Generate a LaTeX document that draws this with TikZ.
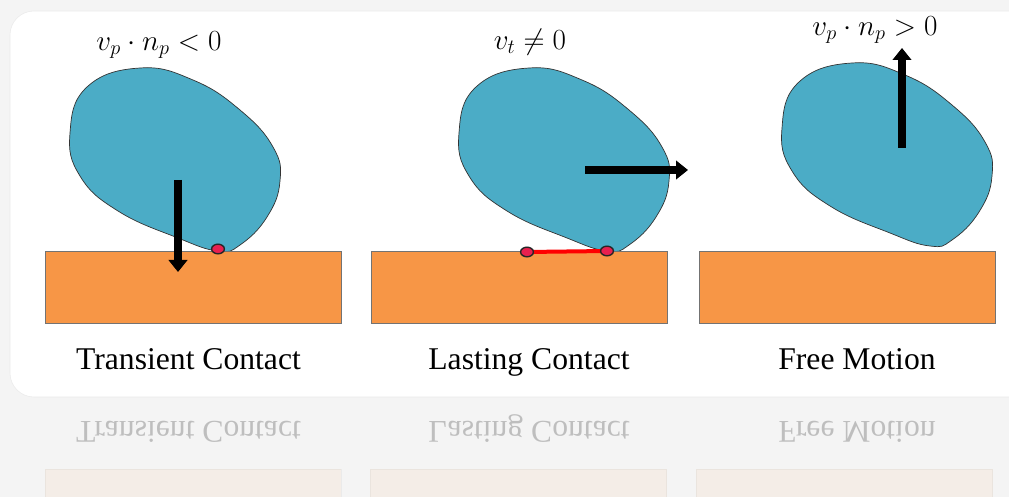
\documentclass[tikz,border=0pt]{standalone}
\usepackage{fontspec}
\setmainfont{Liberation Serif}
\usetikzlibrary{positioning, arrows.meta, shapes.geometric}

\definecolor{bodyblue}{HTML}{4BACC6}
\definecolor{groundorange}{HTML}{F79646}
\definecolor{dotred}{HTML}{E8204F}
\definecolor{backgrey}{HTML}{F4F4F4}

\begin{document}
\begin{tikzpicture}[x = 0.025cm, y = -0.025cm, % one unit = one pixel, y downwards
        > = {Triangle[length = 3mm, width = 4.6mm]}, % arrow head style
        ground/.style = {draw = black!55, fill = groundorange, rectangle,
            minimum width = 7.4cm, minimum height = 1.8cm, inner sep = 0pt},
        caption/.style = {font = \fontsize{22.5}{27}\selectfont, inner sep = 0pt, anchor = base},
        cond/.style = {font = \fontsize{22}{26}\selectfont, inner sep = 0pt},
        contact/.style = {draw = black!85, fill = dotred, ellipse, line width = 1pt,
            minimum width = 3.2mm, minimum height = 2.4mm, inner sep = 0pt},
        vel/.style = {->, line width = 2.2mm}, % velocity arrow
        slip/.style = {draw = red, line width = 1mm},
        pics/blob/.style = {code = {
            \draw[fill = bodyblue, draw = black!80, line width = 0.5pt]
            plot[smooth cycle, tension = 0.75] coordinates {(0,0) (-40,-13) (-100,-40)
                (-138,-75) (-148,-118) (-131,-164) (-78,-183) (-25,-171) (22,-141)
                (55,-104) (62,-70) (49,-34) (22,-6)};
        }}
    ]

    \useasboundingbox (0,0) rectangle (1009,497);
    \clip (0,0) rectangle (1009,497);
    \fill[backgrey] (0,0) rectangle (1009,497);
    \draw[draw = black!8, fill = white, rounded corners = 0.6cm] (10,11) rectangle (1040,397);

    % reflection under the panel
    \begin{scope}[shift = {(0,792)}, yscale = -1, transform shape]
        \node[ground, opacity = 0.07] (mground1) at (193,287) {};
        \node[ground, opacity = 0.07] (mground2) at (518.5,287) {};
        \node[ground, opacity = 0.07] (mground3) at (844.5,287) {};
        \node[caption, opacity = 0.22] (mcap1) at (188.5,370) {Transient Contact};
        \node[caption, opacity = 0.22] (mcap2) at (529,370) {Lasting Contact};
        \node[caption, opacity = 0.22] (mcap3) at (857,370) {Free Motion};
    \end{scope}

    \pic at (218,251) {blob}; \pic at (607,251) {blob}; \pic at (930,246) {blob};

    \node[ground] (ground1) at (193,287) {};
    \node[ground] (ground2) [right = 0.75cm of ground1] {};
    \node[ground] (ground3) [right = 0.775cm of ground2] {};

    \coordinate (slipstart) at (527,252); \coordinate (slipend) at (607,251);
    \draw[slip] (slipstart) -- (slipend);
    \node[contact] (touch1) at (218,249) {};
    \node[contact] (touch2a) at (slipstart) {};
    \node[contact] (touch2b) at (slipend) {};

    \coordinate (v1) at (178,180); \coordinate (v1end) at (178,272);
    \coordinate (v2) at (585,170); \coordinate (v2end) at (688,170);
    \coordinate (v3) at (902,148); \coordinate (v3end) at (902,48);
    \path[vel] (v1) edge (v1end); \path[vel] (v2) edge (v2end); \path[vel] (v3) edge (v3end);

    \node[cond] (cond1) at (159,45) {$v_p \cdot n_p < 0$};
    \node[cond] (cond2) at (530,42) {$v_t \neq 0$};
    \node[cond] (cond3) at (875,30) {$v_p \cdot n_p > 0$};

    \node[caption] (cap1) at (188.5,370) {Transient Contact};
    \node[caption] (cap2) at (529,370) {Lasting Contact};
    \node[caption] (cap3) at (857,370) {Free Motion};
\end{tikzpicture}
\end{document}
